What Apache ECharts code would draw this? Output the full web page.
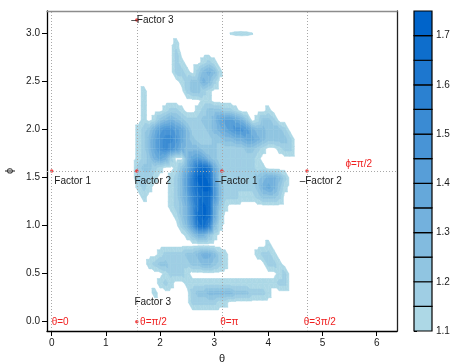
<!DOCTYPE html>
<html><head><meta charset="utf-8">
<script src="https://cdn.jsdelivr.net/npm/echarts@6/dist/echarts.min.js"></script>
<style>html,body{margin:0;padding:0;background:#fff}#c{width:456px;height:364px}</style>
</head><body><div id="c"></div>
<script>
const PI = Math.PI;
// grid of contour values z(theta, phi); 0 = below lowest level (not drawn)
const thetaCols = [1.5,1.6,1.7,1.8,1.9,2.0,2.1,2.2,2.3,2.4,2.5,2.6,2.7,2.8,2.9,3.0,3.1,3.2,3.3,3.4,3.5,3.6,3.7,3.8,3.9,4.0,4.1,4.2,4.3,4.4];
const phiRows = [3.0,2.9,2.8,2.7,2.6,2.5,2.4,2.3,2.2,2.1,2.0,1.9,1.8,1.7,1.6,1.5,1.4,1.3,1.2,1.1,1.0,0.9,0.8,0.7,0.6,0.5,0.4,0.3,0.2];
const zRows = [
 [0,0,0,0,0,0,0,0,0,0,0,0,0,0,0,0,0,0,1.102,1.105,1.106,1.105,1.102],
 [0,0,0,0,0,0,0,0,1.12],
 [0,0,0,0,0,0,0,0,1.17],
 [0,0,0,0,0,0,0,0,1.17,1.12,0,0,0,1.12,1.17,1.12],
 [0,0,0,0,0,0,0,0,1.17,1.17,1.12,0,1.17,1.27,1.32,1.27,1.12],
 [0,0,0,0,0,0,0,0,0,1.12,1.17,1.22,1.22,1.32,1.27,1.17],
 [0,0,1.12,0,0,0,0,0,0,0,1.17,1.22,1.22,1.17,1.12],
 [0,0,1.12,0,0,0,0,0,0,0,0,0,0,1.12,1.12],
 [0,0,1.12,0,0,0,1.12,1.17,1.17,1.12,0,0,1.12,1.17,1.22,1.22,1.22,1.17,1.17,1.12,0,0,0,0,0,1.12],
 [0,0,1.12,0,1.12,1.22,1.27,1.32,1.27,1.22,1.17,1.17,1.17,1.22,1.22,1.27,1.37,1.42,1.42,1.37,1.32,1.22,0,1.12,1.22,1.22,1.17],
 [0,1.12,1.17,1.22,1.32,1.42,1.47,1.47,1.42,1.37,1.27,1.17,1.17,1.17,1.22,1.27,1.32,1.37,1.42,1.47,1.47,1.42,1.32,1.27,1.27,1.22,1.22,1.22,1.17],
 [0,1.12,1.17,1.27,1.37,1.47,1.52,1.52,1.47,1.37,1.27,1.22,1.17,1.17,1.17,1.22,1.22,1.27,1.27,1.32,1.32,1.37,1.37,1.32,1.27,1.22,1.22,1.22,1.22,1.17],
 [0,1.12,1.17,1.27,1.37,1.47,1.52,1.47,1.42,1.32,1.27,1.27,1.27,1.22,1.22,1.22,1.17,1.17,1.17,1.17,1.17,1.22,1.22,1.17,1.12,0,0,1.12,1.17,1.17],
 [0,1.12,1.17,1.22,1.32,1.37,1.32,1.17,0,0,1.27,1.37,1.42,1.37,1.27,1.22,1.17,1.17,1.17,1.17,1.17,1.17,1.17,1.12],
 [0,1.17,1.22,1.22,1.17,1.12,0,0,1.12,1.22,1.32,1.47,1.62,1.67,1.62,1.37,1.22,1.17,1.17,1.17,1.17,1.17,1.17,1.12,1.12],
 [0,1.17,1.17,1.17,1.12,0,0,1.12,1.17,1.27,1.42,1.57,1.72,1.72,1.67,1.42,1.22,1.17,1.17,1.17,1.17,1.17,1.17,1.22,1.27,1.32,1.32,1.27,1.17],
 [0,1.12,1.17,1.12,0,0,0,1.12,1.17,1.27,1.42,1.57,1.67,1.72,1.72,1.47,1.27,1.17,1.17,1.17,1.17,1.17,1.17,1.22,1.32,1.37,1.32,1.22,1.12],
 [0,0,1.12,0,0,0,0,1.12,1.17,1.27,1.37,1.52,1.62,1.67,1.67,1.47,1.27,1.17,1.17,1.17,1.12,1.12,1.12,1.17,1.22,1.22,1.22,1.17],
 [0,0,0,0,0,0,0,1.12,1.17,1.22,1.32,1.47,1.62,1.72,1.67,1.37,1.22,1.12],
 [0,0,0,0,0,0,0,0,1.12,1.22,1.32,1.47,1.67,1.72,1.67,1.37,1.17],
 [0,0,0,0,0,0,0,0,0,1.17,1.27,1.42,1.62,1.67,1.57,1.27,1.12],
 [0,0,0,0,0,0,0,0,0,0,1.12,1.22,1.32,1.32,1.22,1.12],
 [0,0,0,0,0,0,0,0,0,0,0,0,0,0,0,0,0,0,0,0,0,0,0,0,0,1.12],
 [0,0,0,0,0,1.12,1.17,1.17,1.17,1.17,1.22,1.22,1.27,1.32,1.32,1.27,1.17,1.12,0,0,0,0,0,1.12,1.17,1.17,1.12],
 [0,0,0,1.12,1.17,1.22,1.22,1.17,1.17,1.17,1.17,1.22,1.22,1.27,1.27,1.22,1.17,1.12,0,0,0,0,0,0,0,1.17,1.17,1.12],
 [0,0,0,0,0,0,1.12,1.17,1.17,1.17,1.12,0,0,0,0,0,0,0,0,0,0,0,0,0,0,0,0,1.12,1.17],
 [0,0,0,0,0,1.12,1.17,1.12,0,0,1.12,1.12,1.12,1.12,1.12,1.12,1.12,1.12,1.12,1.12,1.12,1.12,1.12,1.12,1.12,1.12,1.12,1.17,1.17],
 [0,0,0,0,1.12,0,0,0,0,0,0,1.17,1.22,1.22,1.27,1.27,1.27,1.27,1.27,1.22,1.22,1.22,1.17,1.17,1.17,1.12],
 [0,0,0,0,0,0,0,0,0,0,0,1.17,1.17,1.17,1.17,1.17,1.12,1.12]
];
const breaks = [1.10,1.15,1.20,1.25,1.30,1.35,1.40,1.45,1.50,1.55,1.60,1.65,1.70,1.75];
const xTicks = [0,1,2,3,4,5,6];
const yTicks = [0,0.5,1,1.5,2,2.5,3];
const barTicks = [1.1,1.2,1.3,1.4,1.5,1.6,1.7];
const refTheta = [0, PI/2, PI, 3*PI/2];
const refPhi = [PI/2];
const factorNames = ['Factor 1','Factor 2','–Factor 1','–Factor 2','Factor 3','–Factor 3'];
const factorTheta = [0, PI/2, PI, 3*PI/2, PI/2, PI/2];
const factorPhi = [PI/2, PI/2, PI/2, PI/2, 0, PI];
const angleNames = ['θ=0','θ=π/2','θ=π','θ=3π/2'];
const angleTheta = [0, PI/2, PI, 3*PI/2];
const phiLabel = 'ϕ=π/2';

// ---------- styling / build ----------
const FONT = '"Liberation Sans", Arial, sans-serif';
const lo = [173,216,230], hi = [0,100,202];
const nBins = breaks.length - 1;
const binColors = [];
for (let i = 0; i < nBins; i++) {
  const t = i / (nBins - 1);
  const c = lo.map((v, k) => Math.round(v + (hi[k] - v) * t));
  binColors.push('rgb(' + c.join(',') + ')');
}

// contour rendering on the triangulated grid of values
const nR = phiRows.length, nC = thetaCols.length;
const stepT = thetaCols[1] - thetaCols[0], stepP = phiRows[0] - phiRows[1];
const FLOOR = breaks[0] - 0.02;
const zAt = (i, j) => { const z = (i < 0 || i >= nR || j < 0 || j >= nC) ? 0 : (zRows[i][j] || 0); return z > 0 ? z : FLOOR; };
const thAt = j => thetaCols[0] + j * stepT;
const phAt = i => phiRows[0] - i * stepP;
const squares = [];
for (let i = -1; i < nR; i++) for (let j = -1; j < nC; j++) {
  if (zAt(i,j) > FLOOR || zAt(i,j+1) > FLOOR || zAt(i+1,j) > FLOOR || zAt(i+1,j+1) > FLOOR) squares.push([i, j]);
}
function clipPoly(pts, t) {
  const out = [];
  for (let k = 0; k < pts.length; k++) {
    const a = pts[k], b = pts[(k + 1) % pts.length];
    const ia = a[2] >= t, ib = b[2] >= t;
    if (ia) out.push(a);
    if (ia !== ib) { const f = (t - a[2]) / (b[2] - a[2]); out.push([a[0] + f * (b[0] - a[0]), a[1] + f * (b[1] - a[1]), t]); }
  }
  return out;
}

const factorOffsets = [[2.6,10.6],[-2.4,10.6],[-6.7,10.6],[-7.3,10.6],[-2.4,-19.4],[-5.5,0]];
const angleOffsets = [[0,1],[3.3,1],[-1.7,1],[-3.3,1]];
const RED = '#f01e1e';

const texts = [];
factorNames.forEach((n, i) => texts.push([factorTheta[i], factorPhi[i], n, '#1a1a1a', factorOffsets[i][0], factorOffsets[i][1], 'left']));
angleNames.forEach((n, i) => texts.push([angleTheta[i], 0, n, RED, angleOffsets[i][0], angleOffsets[i][1], 'left']));
texts.push([2*PI, PI/2, phiLabel, RED, -20, -7, 'right']);

const XMIN = -0.087, XMAX = 6.374, YMIN = -0.0969, YMAX = 3.236;
const lbl = {fontSize: 10, color: '#1a1a1a', fontFamily: FONT};

const chart = echarts.init(document.getElementById('c'), null, {renderer: 'canvas'});
chart.setOption({
  animation: false,
  backgroundColor: '#fff',
  grid: [
    {left: 47, top: 11, width: 350, height: 320, containLabel: false, outerBoundsMode: 'none'},
    {left: 414, top: 11, width: 18, height: 320, containLabel: false, outerBoundsMode: 'none'}
  ],
  xAxis: [
    {gridIndex: 0, type: 'value', min: XMIN, max: XMAX, position: 'bottom',
     axisLine: {onZero: false, lineStyle: {color: '#000', width: 1.3}},
     axisTick: {length: 5, lineStyle: {color: '#000'}, customValues: xTicks},
     axisLabel: Object.assign({margin: 7, customValues: xTicks, formatter: v => String(v)}, lbl),
     splitLine: {show: false},
     name: 'θ', nameLocation: 'middle', nameGap: 22, nameTextStyle: {fontSize: 11, color: '#1a1a1a', fontFamily: FONT}},
    {gridIndex: 0, type: 'value', min: XMIN, max: XMAX, position: 'top',
     axisLine: {onZero: false, lineStyle: {color: '#8c8c8c', width: 1.3}},
     axisTick: {show: false}, axisLabel: {show: false}, splitLine: {show: false}},
    {gridIndex: 1, type: 'value', min: 0, max: 1, show: false}
  ],
  yAxis: [
    {gridIndex: 0, type: 'value', min: YMIN, max: YMAX, position: 'left',
     axisLine: {show: true, onZero: false, lineStyle: {color: '#000', width: 1.3}},
     axisTick: {show: true, length: 5, lineStyle: {color: '#000'}, customValues: yTicks},
     axisLabel: Object.assign({margin: 7, customValues: yTicks, formatter: v => v.toFixed(1)}, lbl),
     splitLine: {show: false},
     name: 'ϕ', nameLocation: 'middle', nameGap: 24, nameRotate: 90, nameTextStyle: {fontSize: 11, color: '#1a1a1a', fontFamily: FONT}},
    {gridIndex: 0, type: 'value', min: YMIN, max: YMAX, position: 'right',
     axisLine: {show: true, onZero: false, lineStyle: {color: '#222', width: 1.3}},
     axisTick: {show: false}, axisLabel: {show: false}, splitLine: {show: false}},
    {gridIndex: 1, type: 'value', min: breaks[0], max: breaks[breaks.length-1], position: 'right',
     axisLine: {show: false},
     axisTick: {show: true, length: 3, lineStyle: {color: '#000'}, customValues: barTicks},
     axisLabel: Object.assign({margin: 4, customValues: barTicks, formatter: v => v.toFixed(1)}, lbl),
     splitLine: {show: false}}
  ],
  series: [
    {type: 'custom', xAxisIndex: 0, yAxisIndex: 0, data: squares, z: 1, silent: true, clip: true,
     renderItem: function (params, api) {
       const s = squares[params.dataIndex], i = s[0], j = s[1];
       const P = (ii, jj) => { const c = api.coord([thAt(jj), phAt(ii)]); return [c[0], c[1], zAt(ii, jj)]; };
       const a = P(i, j), b = P(i, j+1), c = P(i+1, j+1), d = P(i+1, j);
       const tris = [[a, b, c], [a, c, d]];
       const children = [];
       for (let k = 0; k < nBins; k++) {
         tris.forEach(tri => {
           const poly = clipPoly(tri, breaks[k]);
           if (poly.length >= 3) children.push({type: 'polygon', shape: {points: poly.map(p => [p[0], p[1]])},
             style: {fill: binColors[k], stroke: binColors[k], lineWidth: 0.5}});
         });
       }
       return {type: 'group', children: children};
     }},
    {type: 'scatter', xAxisIndex: 0, yAxisIndex: 0, z: 4, silent: true,
     data: factorTheta.map((t, i) => [t, factorPhi[i]]),
     symbol: 'circle', symbolSize: 3.5, itemStyle: {color: RED},
     markLine: {silent: true, symbol: ['none', 'none'], label: {show: false},
       lineStyle: {type: [1, 2], color: '#a8a8a8', width: 1},
       data: refTheta.map(t => ({xAxis: t})).concat(refPhi.map(p => ({yAxis: p})))}},
    {type: 'custom', xAxisIndex: 0, yAxisIndex: 0, data: texts, z: 5, silent: true, clip: false,
     renderItem: function (params, api) {
       const d = texts[params.dataIndex];
       const pt = api.coord([d[0], d[1]]);
       return {type: 'text', x: pt[0] + d[4], y: pt[1] + d[5],
               style: {text: d[2], fill: d[3], font: '10px ' + FONT, textAlign: d[6], textVerticalAlign: 'middle'}};
     }},
    {type: 'custom', xAxisIndex: 2, yAxisIndex: 2, z: 2, silent: true,
     data: breaks.slice(0, -1).map((b, i) => [b, breaks[i+1], i]),
     renderItem: function (params, api) {
       const a = api.coord([0, api.value(1)]);
       const b = api.coord([1, api.value(0)]);
       return {type: 'rect', shape: {x: a[0], y: a[1], width: b[0] - a[0], height: b[1] - a[1]},
               style: {fill: binColors[api.value(2)], stroke: '#000', lineWidth: 1.2}};
     }}
  ]
});
</script></body></html>
